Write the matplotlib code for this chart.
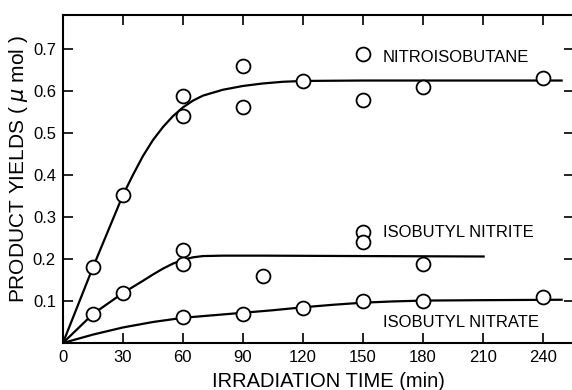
import matplotlib
matplotlib.use("Agg")
import matplotlib.pyplot as plt

# measured points (min, umol)
nitro_t = [15, 30, 60, 60, 90, 90, 120, 150, 150, 180, 240]
nitro_y = [0.18, 0.352, 0.587, 0.541, 0.660, 0.563, 0.623, 0.688, 0.578, 0.610, 0.630]

nitrite_t = [15, 30, 60, 60, 100, 150, 150, 180]
nitrite_y = [0.069, 0.119, 0.221, 0.188, 0.160, 0.264, 0.240, 0.188]

nitrate_t = [60, 90, 120, 150, 180, 240]
nitrate_y = [0.062, 0.069, 0.083, 0.100, 0.100, 0.109]

# fitted curves
nitro_curve_t = [0, 15, 30, 35, 40, 45, 50, 55, 60, 65, 70, 80, 90, 100, 110, 120, 150, 200, 250]
nitro_curve_y = [0, 0.18, 0.352, 0.400, 0.445, 0.483, 0.514, 0.540, 0.561, 0.577, 0.589,
                 0.603, 0.612, 0.618, 0.622, 0.624, 0.625, 0.625, 0.625]

nitrite_curve_t = [0, 15, 30, 40, 45, 50, 55, 60, 65, 70, 80, 100, 150, 211]
nitrite_curve_y = [0, 0.069, 0.119, 0.148, 0.163, 0.177, 0.189, 0.198, 0.204, 0.207,
                   0.208, 0.208, 0.207, 0.206]

nitrate_curve_t = [0, 15, 30, 45, 60, 75, 90, 105, 120, 135, 150, 165, 180, 210, 250]
nitrate_curve_y = [0, 0.020, 0.037, 0.050, 0.060, 0.066, 0.072, 0.078, 0.085, 0.091,
                   0.096, 0.099, 0.101, 0.102, 0.103]

xticks = [0, 30, 60, 90, 120, 150, 180, 210, 240]
yticks = [0.1, 0.2, 0.3, 0.4, 0.5, 0.6, 0.7]

plt.rcParams['font.family'] = ['Liberation Sans', 'DejaVu Sans']

fig = plt.figure(figsize=(5.72, 3.90), dpi=100)
ax = fig.add_axes([0.110, 0.1205, 0.893, 0.841])

for t, y in [(nitro_curve_t, nitro_curve_y), (nitrite_curve_t, nitrite_curve_y),
             (nitrate_curve_t, nitrate_curve_y)]:
    ax.plot(t, y, color='black', lw=1.6, solid_capstyle='butt', solid_joinstyle='round', zorder=2)

for t, y in [(nitro_t, nitro_y), (nitrite_t, nitrite_y), (nitrate_t, nitrate_y)]:
    ax.plot(t, y, 'o', ms=10, mfc='white', mec='black', mew=1.3, zorder=3, clip_on=False)

ax.set_xlim(0, 255.5)
ax.set_ylim(0, 0.781)
ax.set_xticks(xticks)
ax.set_xticklabels([str(v) for v in xticks])
ax.set_yticks(yticks)
ax.set_yticklabels([f"{v:.1f}" for v in yticks])
ax.tick_params(direction='in', length=7, width=1.2, labelsize=12, pad=5,
               top=True, right=True)
for s in ax.spines.values():
    s.set_linewidth(1.5)

ax.text(160, 0.679, "NITROISOBUTANE", fontsize=12, va='center')
ax.text(160, 0.264, "ISOBUTYL NITRITE", fontsize=12, va='center')
ax.text(160, 0.048, "ISOBUTYL NITRATE", fontsize=12, va='center')

ax.set_xlabel("IRRADIATION TIME (min)", fontsize=14.5, labelpad=5, x=0.52)
ax.set_ylabel(r"PRODUCT YIELDS ( $\mu$ mol )", fontsize=15, labelpad=2, y=0.53)

fig.savefig("out.png", dpi=100)
